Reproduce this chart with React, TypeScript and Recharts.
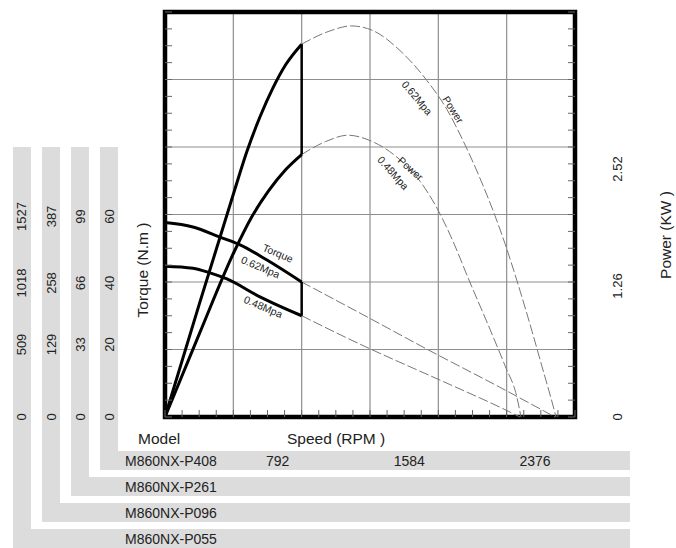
import {
  CartesianGrid,
  ComposedChart,
  Line,
  ReferenceArea,
  ReferenceDot,
  XAxis,
  YAxis,
} from 'recharts'

const W = 676
const H = 548
const FONT = '"Liberation Sans", Arial, Helvetica, sans-serif'
const INK = '#222'
const SHADE = '#dcdcdc'

// Curves: [speed (rpm, P408 scale), value].
// Torque in N.m on the P408 scale, power in KW.
const torque062 = [[0, 57.6], [162, 56.3], [319, 53.3], [435, 51.0], [591, 46.5], [792, 40.0]]
const torque062Free = [[792, 40.0], [1188, 29.2], [1536, 19.6], [1941, 8.8], [2260, 0]]
const torque048 = [[0, 44.7], [162, 44.1], [261, 42.7], [359, 40.9], [550, 35.6], [792, 30.0]]
const torque048Free = [[792, 30.0], [1188, 20.2], [1362, 16.2], [1652, 9.6], [1941, 2.9], [2057, 0]]
const power062 = [[0, 0], [200, 1.06], [400, 2.1], [475, 2.48], [550, 2.8], [625, 3.07], [700, 3.29], [792, 3.48]]
const power062Free = [
  [792, 3.48], [950, 3.6], [1080, 3.65], [1200, 3.61], [1362, 3.42], [1518, 3.14], [1634, 2.87], [1727, 2.58],
  [1825, 2.23], [1912, 1.88], [1970, 1.62], [2040, 1.27], [2127, 0.8], [2185, 0.47], [2243, 0.14], [2266, 0],
]
const power048 = [[0, 0], [200, 0.78], [400, 1.54], [500, 1.86], [600, 2.11], [700, 2.31], [792, 2.45]]
const power048Free = [
  [792, 2.45], [930, 2.57], [1060, 2.63], [1188, 2.58], [1362, 2.4], [1478, 2.2], [1576, 1.95],
  [1669, 1.64], [1756, 1.3], [1883, 0.82], [1970, 0.48], [2040, 0.18], [2063, 0],
]
const torqueCutoff = [[792, 40], [792, 30]]
const powerCutoff = [[792, 3.48], [792, 2.45]]

// Model table
const models = ['M860NX-P408', 'M860NX-P261', 'M860NX-P096', 'M860NX-P055']
const p408Speeds = [792, 1584, 2376]
const p261Speeds = [475, 950, 1425]
const p096Speeds = [118, 236, 354]
const p055Speeds = [29, 58, 87]
const torqueLabels = ['0', '20', '40', '60']
const p261Torque = [0, 33, 66, 99]
const p096Torque = [0, 129, 258, 387]
const p055Torque = [0, 509, 1018, 1527]
const powerLabels = ['0', '1.26', '2.52']

// major grid and minor (inward) ticks
const gridSpeeds = [0, 396, 792, 1188, 1584, 1980, 2376]
const gridTorque = [0, 20, 40, 60, 80, 100, 120]
const speedMinor = Array.from({ length: 25 }, (_, i) => i * 99)
const torqueMinor = Array.from({ length: 25 }, (_, i) => i * 5)
const powerMinor = Array.from({ length: 25 }, (_, i) => (i * 3.78) / 24)

const curveNotes = [
  { text: 'Torque', s: 655, v: 48.6, axis: 'y1torque', angle: 23 },
  { text: '0.62Mpa', s: 554, v: 44.5, axis: 'y1torque', angle: 23 },
  { text: '0.48Mpa', s: 570, v: 32.7, axis: 'y1torque', angle: 23 },
  { text: '0.62Mpa', s: 1462, v: 2.98, axis: 'y5power', angle: 50 },
  { text: 'Power', s: 1671, v: 2.87, axis: 'y5power', angle: 58 },
  { text: 'Power', s: 1424, v: 2.32, axis: 'y5power', angle: 42 },
  { text: '0.48Mpa', s: 1323, v: 2.28, axis: 'y5power', angle: 48 },
]

// L-shaped shaded bands: rotated column on the left joined to the model row
const bands = [
  { col: 100, row: 451 },
  { col: 71, row: 477 },
  { col: 42, row: 503 },
  { col: 13, row: 529 },
]

const pts = (a: number[][]) => a.map(([s, v]) => ({ s, v }))

const COLUMN_NUDGE = [0, -5, 1, 2]
const POWER_NUDGE = [0, 4, 22]
const SPEED_NUDGE = [-24, -29, -40]

function columnTick(dx: number, every: number, labels?: string[], nudge = COLUMN_NUDGE, max = 4) {
  return (props: any) => {
    const { x, y, payload, index } = props
    const k = index / every
    if (!Number.isInteger(k) || k >= max) return <g />
    const text = labels ? labels[k] : String(payload.value)
    return (
      <text
        transform={`translate(${x + dx},${y + nudge[k]}) rotate(-90)`}
        textAnchor="middle"
        dominantBaseline="central"
        fontSize={13}
        fill={INK}
        fontFamily={FONT}
      >
        {text}
      </text>
    )
  }
}

function speedTick(dy: number, labels: number[], every: number) {
  return (props: any) => {
    const { x, y, index } = props
    let k = index
    if (every > 1) {
      if (index === 0 || index % every !== 0) return <g />
      k = index / every - 1
    }
    return (
      <text
        x={x + SPEED_NUDGE[k]}
        y={y + dy}
        textAnchor="middle"
        dominantBaseline="central"
        fontSize={14}
        fill={INK}
        fontFamily={FONT}
      >
        {labels[k]}
      </text>
    )
  }
}

function rowLabel(model: string, header = false) {
  return (p: any) => {
    const vb = p.viewBox ?? p
    const rowY = vb.y + (header ? 43.5 : 16.5)
    return (
      <g fontFamily={FONT} fill={INK}>
        {header && (
          <text x={vb.x - 27} y={vb.y + 21.5} dominantBaseline="central" fontSize={15.5}>
            Model
          </text>
        )}
        {header && (
          <text x={vb.x + 122} y={vb.y + 21.5} dominantBaseline="central" fontSize={15.5}>
            Speed (RPM )
          </text>
        )}
        <text x={vb.x - 40} y={rowY} dominantBaseline="central" fontSize={14}>
          {model}
        </text>
      </g>
    )
  }
}

function axisTitle(text: string, dx: number, dy: number) {
  return (p: any) => {
    const vb = p.viewBox ?? p
    return (
      <text
        transform={`translate(${vb.x + dx},${vb.y + dy}) rotate(-90)`}
        textAnchor="middle"
        dominantBaseline="central"
        fontSize={15.5}
        fill={INK}
        fontFamily={FONT}
      >
        {text}
      </text>
    )
  }
}

const SOLID = { stroke: '#000', strokeWidth: 3 }
const FREE = { stroke: '#777', strokeWidth: 1, strokeDasharray: '10 3' }

export default function App() {
  const freeLines = [
    { id: 't62f', data: torque062Free, axis: 'y1torque' },
    { id: 't48f', data: torque048Free, axis: 'y1torque' },
    { id: 'p62f', data: power062Free, axis: 'y5power' },
    { id: 'p48f', data: power048Free, axis: 'y5power' },
  ]
  const solidLines = [
    { id: 't62', data: torque062, axis: 'y1torque' },
    { id: 't48', data: torque048, axis: 'y1torque' },
    { id: 'p62', data: power062, axis: 'y5power' },
    { id: 'p48', data: power048, axis: 'y5power' },
  ]
  // a Y axis only draws ticks when a series is bound to it, so each model
  // column gets an invisible carrier series made of its own tick values
  const columnCarriers = [
    { id: 'y2p261', values: p261Torque },
    { id: 'y3p096', values: p096Torque },
    { id: 'y4p055', values: p055Torque },
  ]

  // Same-side axes stack in id order, the first one next to the plot.
  return (
    <div style={{ position: 'absolute', left: 0, top: 0, width: W, height: H, background: '#fff' }}>
      {bands.map((b) => (
        <div key={b.col}>
          <div
            style={{ position: 'absolute', left: b.col, top: 147, width: 18, height: b.row + 19 - 147, background: SHADE }}
          />
          <div
            style={{ position: 'absolute', left: b.col, top: b.row, width: 630 - b.col, height: 19, background: SHADE }}
          />
        </div>
      ))}
      <div style={{ position: 'absolute', left: 0, top: 0 }}>
        <ComposedChart width={W} height={H} margin={{ top: 12, right: 0, bottom: 0, left: 13 }}>
          <XAxis
            xAxisId="x1main"
            dataKey="s"
            type="number"
            domain={[0, 2376]}
            ticks={speedMinor}
            interval={0}
            height={53}
            tickSize={-7}
            tickMargin={0}
            tickLine={{ stroke: '#666' }}
            axisLine={false}
            tick={speedTick(50.5, p408Speeds, 8)}
            label={rowLabel(models[0], true)}
          />
          <XAxis
            xAxisId="x2p261"
            type="number"
            domain={[0, 1425]}
            ticks={p261Speeds}
            interval={0}
            height={26}
            tickSize={0}
            tickMargin={0}
            tickLine={false}
            axisLine={false}
            tick={speedTick(16.5, p261Speeds, 1)}
            label={rowLabel(models[1])}
          />
          <XAxis
            xAxisId="x3p096"
            type="number"
            domain={[0, 354]}
            ticks={p096Speeds}
            interval={0}
            height={26}
            tickSize={0}
            tickMargin={0}
            tickLine={false}
            axisLine={false}
            tick={speedTick(16.5, p096Speeds, 1)}
            label={rowLabel(models[2])}
          />
          <XAxis
            xAxisId="x4p055"
            type="number"
            domain={[0, 87]}
            ticks={p055Speeds}
            interval={0}
            height={26}
            tickSize={0}
            tickMargin={0}
            tickLine={false}
            axisLine={false}
            tick={speedTick(16.5, p055Speeds, 1)}
            label={rowLabel(models[3])}
          />

          <YAxis
            yAxisId="y1torque"
            type="number"
            domain={[0, 120]}
            ticks={torqueMinor}
            interval={0}
            width={65}
            tickSize={-7}
            tickMargin={0}
            tickLine={{ stroke: '#666' }}
            axisLine={false}
            tick={columnTick(-63, 4, torqueLabels)}
            label={axisTitle('Torque (N.m )', 42, 258)}
          />
          <YAxis
            yAxisId="y2p261"
            type="number"
            domain={[0, 198]}
            ticks={p261Torque}
            interval={0}
            width={29}
            tickSize={0}
            tickMargin={0}
            tickLine={false}
            axisLine={false}
            tick={columnTick(-20, 1)}
          />
          <YAxis
            yAxisId="y3p096"
            type="number"
            domain={[0, 774]}
            ticks={p096Torque}
            interval={0}
            width={29}
            tickSize={0}
            tickMargin={0}
            tickLine={false}
            axisLine={false}
            tick={columnTick(-20, 1)}
          />
          <YAxis
            yAxisId="y4p055"
            type="number"
            domain={[0, 3054]}
            ticks={p055Torque}
            interval={0}
            width={29}
            tickSize={0}
            tickMargin={0}
            tickLine={false}
            axisLine={false}
            tick={columnTick(-21, 1)}
          />
          <YAxis
            yAxisId="y5power"
            orientation="right"
            type="number"
            domain={[0, 3.78]}
            ticks={powerMinor}
            interval={0}
            width={101}
            tickSize={-7}
            tickMargin={0}
            tickLine={{ stroke: '#666' }}
            axisLine={false}
            tick={columnTick(49, 8, powerLabels, POWER_NUDGE, 3)}
            label={axisTitle('Power (KW )', 90, 223)}
          />

          <CartesianGrid
            xAxisId="x1main"
            yAxisId="y1torque"
            verticalValues={gridSpeeds}
            horizontalValues={gridTorque}
            stroke="#8e8e8e"
            strokeWidth={1.2}
          />

          {columnCarriers.map((c) => (
            <Line
              key={c.id}
              data={c.values.map((v) => ({ s: 0, v }))}
              dataKey="v"
              xAxisId="x1main"
              yAxisId={c.id}
              stroke="none"
              dot={false}
              activeDot={false}
              isAnimationActive={false}
            />
          ))}

          {freeLines.map((l) => (
            <Line
              key={l.id}
              data={pts(l.data)}
              dataKey="v"
              xAxisId="x1main"
              yAxisId={l.axis}
              type="monotone"
              dot={false}
              activeDot={false}
              isAnimationActive={false}
              {...FREE}
            />
          ))}
          {solidLines.map((l) => (
            <Line
              key={l.id}
              data={pts(l.data)}
              dataKey="v"
              xAxisId="x1main"
              yAxisId={l.axis}
              type="monotone"
              dot={false}
              activeDot={false}
              isAnimationActive={false}
              {...SOLID}
            />
          ))}
          <Line
            data={pts(torqueCutoff)}
            dataKey="v"
            xAxisId="x1main"
            yAxisId="y1torque"
            type="linear"
            dot={false}
            activeDot={false}
            isAnimationActive={false}
            stroke="#000"
            strokeWidth={2.5}
          />
          <Line
            data={pts(powerCutoff)}
            dataKey="v"
            xAxisId="x1main"
            yAxisId="y5power"
            type="linear"
            dot={false}
            activeDot={false}
            isAnimationActive={false}
            stroke="#000"
            strokeWidth={2.5}
          />

          {curveNotes.map((n, i) => (
            <ReferenceDot
              key={i}
              x={n.s}
              y={n.v}
              xAxisId="x1main"
              yAxisId={n.axis}
              r={0}
              shape={(p: any) => (
                <text
                  transform={`translate(${p.cx},${p.cy}) rotate(${n.angle})`}
                  textAnchor="middle"
                  dominantBaseline="central"
                  fontSize={10.5}
                  fill={INK}
                  fontFamily={FONT}
                >
                  {n.text}
                </text>
              )}
            />
          ))}

          <ReferenceArea
            xAxisId="x1main"
            yAxisId="y1torque"
            x1={0}
            x2={2376}
            y1={0}
            y2={120}
            fill="none"
            stroke="#000"
            strokeWidth={4.5}
            ifOverflow="visible"
          />
        </ComposedChart>
      </div>
    </div>
  )
}
